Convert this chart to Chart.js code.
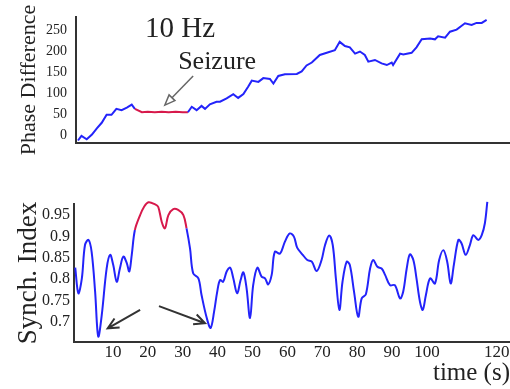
<!DOCTYPE html>
<html>
<head>
<meta charset="utf-8">
<script src="https://cdn.jsdelivr.net/npm/chart.js@4.4.1/dist/chart.umd.min.js"></script>
<style>
  body { margin: 0; background: #fff; }
  #wrap { position: relative; width: 510px; height: 389px; overflow: hidden; }
  canvas { position: absolute; left: 0; }
  #phaseChart { top: 0; }
  #synchChart { top: 190px; }
</style>
</head>
<body>
<div id="wrap">
  <canvas id="phaseChart" width="510" height="160"></canvas>
  <canvas id="synchChart" width="510" height="199"></canvas>
</div>
<script>
// Seizure interval (s), drawn in red
const seizureStart = 16.3;
const seizureEnd = 31.5;

// Top panel: phase difference at 10 Hz
const phaseTime = [0, 1, 2.5, 4, 5.4, 6.8, 8.2, 9.6, 11, 12.5, 14, 15.4, 16.3, 18.3, 20, 22, 24, 26, 28, 30, 31.5,
  32.6, 34, 35.4, 36.4, 37.8, 39.7, 40.7, 42.6, 44.5, 45.9, 47.4, 48.8, 49.8, 51.7, 53.1, 55, 56, 57.4, 59.3,
  62.7, 64.1, 65.5, 67, 69.3, 71.3, 73.6, 75, 76.5, 77.9, 79.4, 80.8, 82.2, 83.2, 85.1, 87, 88.5, 89.9, 90.3,
  92.3, 93.2, 95.6, 97, 98.5, 100.9, 102.3, 103.2, 105.2, 106.6, 108.5, 110.9, 112.8, 114.2, 115.7, 117.1];
const phaseValue = [-12, -1, -9, 2, 17, 30, 49, 49, 63, 60, 66, 73, 63, 55, 56, 55, 56, 55, 56, 55, 55,
  68, 60, 70, 63, 74, 80, 80, 88, 98, 89, 98, 116, 130, 127, 136, 134, 123, 141, 145,
  146, 152, 166, 173, 191, 196, 202, 222, 212, 209, 194, 199, 191, 175, 179, 171, 167, 173, 167,
  194, 192, 196, 209, 228, 230, 228, 235, 232, 246, 251, 266, 262, 267, 267, 274];
const phaseTicks = [0, 50, 100, 150, 200, 250];

// Bottom panel: synchronization index
const synchTime = [-0.8, 0.1, 1.1, 2, 3, 3.9, 4.9, 5.8, 6.8, 8.2, 9.2, 10.1, 11.1, 12, 13, 14, 14.7, 15.4, 16.3,
  17.8, 18.9, 20.2, 22.1, 23, 24, 24.9, 25.9, 27.3, 28.7, 30.2, 31.1, 32.1, 33, 34.5, 35.4, 36.9, 38, 39,
  39.9, 40.7, 41.6, 42.6, 43.6, 44.5, 45.6, 46.6, 47.4, 48.3, 49.3, 50.2, 51.4, 52.6, 53.6, 54.5, 55.5,
  56.4, 57.9, 59.3, 60.7, 61.9, 62.8, 64.4, 65.7, 67, 68.4, 69.8, 70.8, 72, 73, 73.9, 74.9, 75.8, 77,
  77.9, 79.1, 80.3, 81.3, 82.5, 83.7, 84.6, 85.8, 87, 88, 89.4, 90.8, 92.3, 93.2, 94.2, 95.1, 96.1, 97,
  98, 98.8, 99.7, 100.9, 102.3, 103.5, 104.7, 105.8, 106.8, 107.7, 109, 109.9, 111.1, 112.3, 113.3,
  114.7, 115.7, 116.6, 117.3];
const synchValue = [0.827, 0.767, 0.802, 0.880, 0.892, 0.864, 0.771, 0.666, 0.716, 0.825, 0.857, 0.833, 0.794,
  0.825, 0.853, 0.837, 0.818, 0.857, 0.915, 0.950, 0.969, 0.980, 0.975, 0.969, 0.934, 0.919, 0.950, 0.964,
  0.962, 0.950, 0.919, 0.872, 0.814, 0.802, 0.763, 0.709, 0.686, 0.724, 0.771, 0.798, 0.794, 0.818, 0.827,
  0.802, 0.767, 0.798, 0.816, 0.779, 0.709, 0.786, 0.827, 0.806, 0.802, 0.788, 0.810, 0.864, 0.860, 0.888,
  0.907, 0.899, 0.874, 0.857, 0.845, 0.841, 0.819, 0.845, 0.880, 0.902, 0.880, 0.802, 0.728, 0.794, 0.841,
  0.833, 0.771, 0.712, 0.755, 0.765, 0.825, 0.845, 0.829, 0.825, 0.810, 0.786, 0.786, 0.755, 0.771, 0.825,
  0.858, 0.845, 0.802, 0.747, 0.728, 0.763, 0.802, 0.790, 0.845, 0.868, 0.841, 0.790, 0.833, 0.892, 0.884,
  0.857, 0.880, 0.903, 0.892, 0.903, 0.931, 0.981];
const synchTicks = [0.7, 0.75, 0.8, 0.85, 0.9, 0.95];
const timeTicks = [10, 20, 30, 40, 50, 60, 70, 80, 90, 100, 120];

const blue = 'rgb(35, 35, 250)';
const red = 'rgb(215, 25, 75)';
const ink = '#222';
const serif = 'Liberation Serif';

function toPoints(xs, ys) {
    return xs.map((x, i) => ({ x: x, y: ys[i] }));
}

function seizureColor(ctx) {
    const a = ctx.p0.parsed.x, b = ctx.p1.parsed.x;
    return (a >= seizureStart - 0.05 && b <= seizureEnd + 0.05) ? red : blue;
}

function drawArrow(ctx, x1, y1, x2, y2, hollow) {
    const ang = Math.atan2(y2 - y1, x2 - x1);
    const len = hollow ? 11 : 12;
    const spread = hollow ? 0.38 : 0.45;
    const ax = x2 - len * Math.cos(ang - spread), ay = y2 - len * Math.sin(ang - spread);
    const bx = x2 - len * Math.cos(ang + spread), by = y2 - len * Math.sin(ang + spread);
    ctx.beginPath();
    if (hollow) {
        const mx = (ax + bx) / 2, my = (ay + by) / 2;
        ctx.moveTo(x1, y1);
        ctx.lineTo(mx, my);
        ctx.stroke();
        ctx.beginPath();
        ctx.moveTo(x2, y2);
        ctx.lineTo(ax, ay);
        ctx.lineTo(bx, by);
        ctx.closePath();
        ctx.fillStyle = '#fff';
        ctx.fill();
        ctx.stroke();
    } else {
        ctx.moveTo(x1, y1);
        ctx.lineTo(x2, y2);
        ctx.moveTo(ax, ay);
        ctx.lineTo(x2, y2);
        ctx.lineTo(bx, by);
        ctx.stroke();
    }
}

// y axis styling shared by both panels
function yAxis(min, max, ticks, width, pad, tickSize, title, titleSize, titlePad) {
    return {
        type: 'linear',
        min: min,
        max: max,
        afterBuildTicks: s => { s.ticks = ticks.map(v => ({ value: v })); },
        afterFit: s => { s.width = width; },
        grid: { display: false, drawTicks: false },
        border: { display: true, color: '#333', width: 2 },
        ticks: { color: ink, padding: pad, font: { family: serif, size: tickSize },
                 callback: v => String(v) },
        title: { display: true, text: title, color: ink, padding: { top: titlePad, bottom: 0 },
                 font: { family: serif, size: titleSize } }
    };
}

// ---- top panel ----
const phaseNotes = {
    id: 'phaseNotes',
    afterDatasetsDraw(chart) {
        const { ctx, scales: { x, y } } = chart;
        ctx.save();
        ctx.fillStyle = ink;
        ctx.textBaseline = 'alphabetic';
        ctx.font = '29px "Liberation Serif"';
        ctx.fillText('10 Hz', x.getPixelForValue(19.2), y.getPixelForValue(233));
        ctx.font = '26px "Liberation Serif"';
        ctx.fillText('Seizure', x.getPixelForValue(28.7), y.getPixelForValue(158));
        ctx.strokeStyle = '#666';
        ctx.lineWidth = 1.5;
        drawArrow(ctx, x.getPixelForValue(33), y.getPixelForValue(141),
                  x.getPixelForValue(24.9), y.getPixelForValue(72), true);
        ctx.restore();
    }
};

new Chart(document.getElementById('phaseChart'), {
    type: 'line',
    data: {
        datasets: [{
            data: toPoints(phaseTime, phaseValue),
            borderColor: blue,
            borderWidth: 2,
            pointRadius: 0,
            tension: 0,
            segment: { borderColor: seizureColor }
        }]
    },
    options: {
        responsive: false,
        animation: false,
        layout: { padding: { top: 10, right: 0, bottom: 0, left: 0 } },
        plugins: { legend: { display: false }, tooltip: { enabled: false } },
        scales: {
            x: {
                type: 'linear',
                min: -0.57,
                max: 123.8,
                afterFit: s => { s.height = 11; },
                grid: { display: false, drawTicks: false },
                border: { display: true, color: '#333', width: 2 },
                ticks: { display: false }
            },
            y: yAxis(-17, 280, phaseTicks, 76, 9, 14, 'Phase Difference', 22, 16)
        }
    },
    plugins: [phaseNotes]
});

// ---- bottom panel ----
const synchNotes = {
    id: 'synchNotes',
    afterDatasetsDraw(chart) {
        const { ctx, scales: { x, y } } = chart;
        ctx.save();
        ctx.strokeStyle = '#333';
        ctx.lineWidth = 2;
        drawArrow(ctx, x.getPixelForValue(17.8), y.getPixelForValue(0.728),
                  x.getPixelForValue(8.5), y.getPixelForValue(0.685), false);
        drawArrow(ctx, x.getPixelForValue(23.2), y.getPixelForValue(0.737),
                  x.getPixelForValue(36.4), y.getPixelForValue(0.697), false);
        ctx.restore();
    }
};

new Chart(document.getElementById('synchChart'), {
    type: 'line',
    data: {
        datasets: [{
            data: toPoints(synchTime, synchValue),
            borderColor: blue,
            borderWidth: 2,
            pointRadius: 0,
            tension: 0.35,
            clip: false,
            segment: { borderColor: seizureColor }
        }]
    },
    options: {
        responsive: false,
        animation: false,
        layout: { padding: { top: 14, right: 0, bottom: 0, left: 0 } },
        plugins: { legend: { display: false }, tooltip: { enabled: false } },
        scales: {
            x: {
                type: 'linear',
                min: -1.15,
                max: 123.8,
                afterBuildTicks: s => { s.ticks = timeTicks.map(v => ({ value: v })); },
                afterFit: s => { s.height = 47; },
                grid: { display: false, drawTicks: false },
                border: { display: true, color: '#333', width: 2 },
                ticks: { color: ink, padding: 0, maxRotation: 0, autoSkip: false,
                         font: { family: serif, size: 17 } },
                title: { display: true, text: 'time (s)', align: 'end', color: ink,
                         padding: { top: 0, bottom: 1 }, font: { family: serif, size: 25 } }
            },
            y: yAxis(0.653, 0.976, synchTicks, 74, 4, 16, 'Synch. Index', 27, 13)
        }
    },
    plugins: [synchNotes]
});
</script>
</body>
</html>
